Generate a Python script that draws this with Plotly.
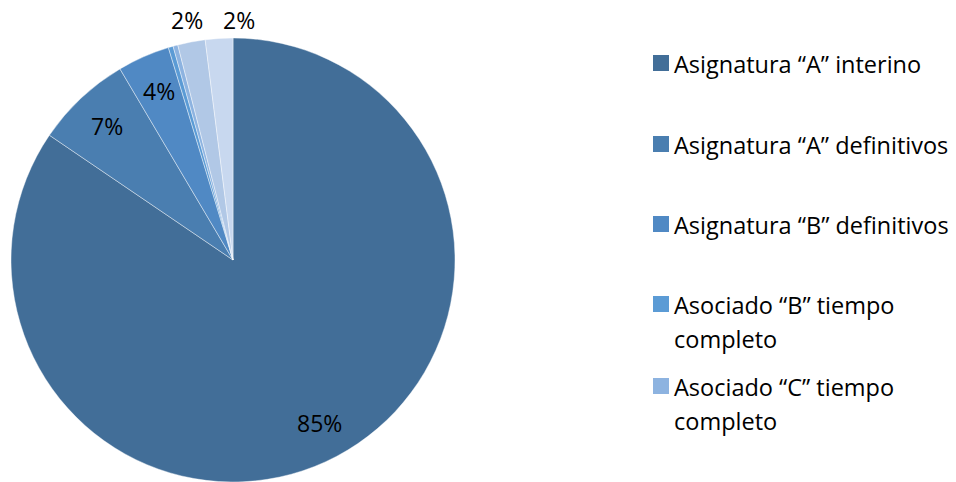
import math
import plotly.graph_objects as go

categories = [
    "Asignatura “A” interino",
    "Asignatura “A” definitivos",
    "Asignatura “B” definitivos",
    "Asociado “B” tiempo completo",
    "Asociado “C” tiempo completo",
    "Otro 1",
    "Otro 2",
]
values = [84.5, 7.0, 3.8, 0.35, 0.35, 2.0, 2.0]
slice_labels = ["85%", "7%", "4%", "", "", "2%", "2%"]
label_outside = [False, False, False, False, False, True, True]
colors = ["#426e98", "#4a7eb0", "#5089c4", "#5b9bd5", "#8db3e0", "#b1c8e6", "#c8d8ef"]

legend_lines = [
    ["Asignatura “A” interino"],
    ["Asignatura “A” definitivos"],
    ["Asignatura “B” definitivos"],
    ["Asociado “B” tiempo", "completo"],
    ["Asociado “C” tiempo", "completo"],
]

W, H = 956, 482
M_T = 38
PH = H - M_T
CX_PX, R_PX = 233, 222
CY_PX = M_T + PH / 2
OUT_LABEL_Y = 20

fig = go.Figure()
fig.add_trace(go.Pie(
    labels=categories,
    values=values,
    textinfo="none",
    sort=False,
    direction="clockwise",
    rotation=0,
    marker=dict(colors=colors, line=dict(color="rgba(255,255,255,0.6)", width=0.7)),
    showlegend=False,
    domain=dict(x=[(CX_PX - R_PX) / W, (CX_PX + R_PX) / W], y=[0, 1]),
    hoverinfo="label+percent",
))

annotations = []
shapes = []

# slice percentage labels placed along each slice's bisector
total = sum(values)
cum = 0.0
prev_right = None
for v, lab, out in zip(values, slice_labels, label_outside):
    mid = (cum + v / 2) / total * 2 * math.pi
    cum += v
    if not lab:
        continue
    k = 1.10 if out else 0.83
    px = CX_PX + k * R_PX * math.sin(mid)
    py = CY_PX - k * R_PX * math.cos(mid)
    if out:
        py = OUT_LABEL_Y
        if prev_right is not None and px - 16 < prev_right + 20:
            px = prev_right + 20 + 16
        prev_right = px + 16
    annotations.append(dict(xref="paper", yref="paper", x=px / W, y=(H - py) / PH,
                            xanchor="center", yanchor="middle", text=lab, showarrow=False,
                            font=dict(family="Open Sans", size=23, color="#000000")))

# legend: squares + text lines
legend_y = [63, 144, 224, 304, 386]
SQ_X0 = 653
TXT_X = 672
line_gap = 34
for lines, col, yc in zip(legend_lines, colors[:5], legend_y):
    shapes.append(dict(type="rect", xref="paper", yref="paper",
                       x0=SQ_X0 / W, x1=(SQ_X0 + 16) / W,
                       y0=(H - (yc + 8)) / PH, y1=(H - (yc - 8)) / PH,
                       fillcolor=col, line=dict(width=0)))
    for i, t in enumerate(lines):
        annotations.append(dict(xref="paper", yref="paper", x=TXT_X / W,
                                y=(H - (yc + 1 + i * line_gap)) / PH,
                                xanchor="left", yanchor="middle",
                                text=t, showarrow=False, align="left",
                                font=dict(family="Open Sans", size=23.5, color="#000000")))

fig.update_layout(
    width=W, height=H,
    margin=dict(l=0, r=0, t=M_T, b=0),
    paper_bgcolor="white", plot_bgcolor="white",
    shapes=shapes, annotations=annotations,
)
fig.write_html("out.html",
               config={"displayModeBar": False},
               post_script="document.body.style.margin='0px';document.body.style.overflow='hidden';")
